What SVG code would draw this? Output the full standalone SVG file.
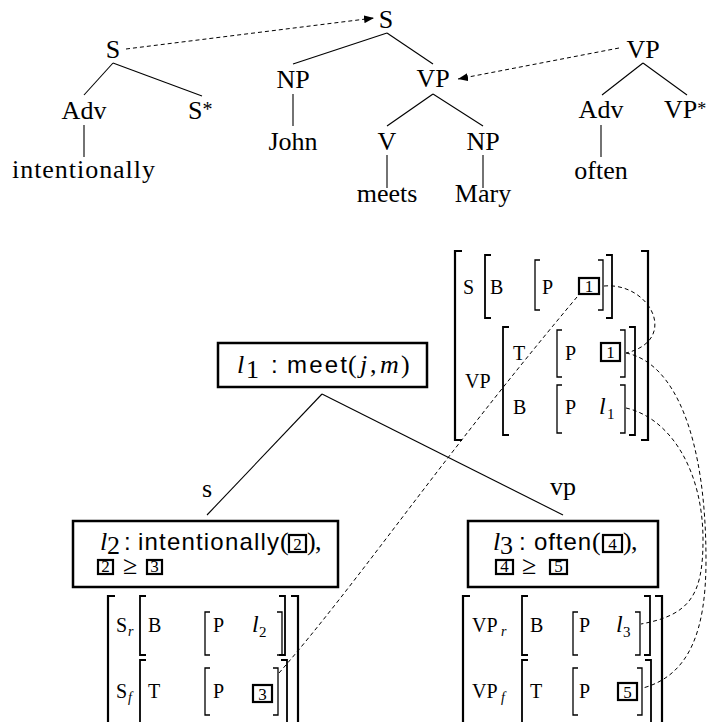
<svg xmlns="http://www.w3.org/2000/svg" width="707" height="722" viewBox="0 0 707 722">
<style>
.t{font-family:"Liberation Serif",serif;font-size:26px;fill:#000}
.m{text-anchor:middle}
.i{font-style:italic}
.sf{font-family:"Liberation Sans",sans-serif;font-size:24px;fill:#000}
.a{font-family:"Liberation Serif",serif;font-size:20px;fill:#000}
.li{font-family:"Liberation Serif",serif;font-size:24px;font-style:italic;fill:#000}
.sb{font-family:"Liberation Serif",serif;font-size:15px;fill:#000}
.si{font-family:"Liberation Serif",serif;font-size:14px;font-style:italic;fill:#000}
.n{font-family:"Liberation Serif",serif;font-size:17px;fill:#000;text-anchor:middle}
.e{stroke:#000;stroke-width:1.1;fill:none}
.d{stroke:#000;stroke-width:1;stroke-dasharray:4 3;fill:none}
.bx{fill:#fff;stroke:#000;stroke-width:2.5}
.nb{fill:none;stroke:#000;stroke-width:2.2}
.b1{fill:none;stroke:#000;stroke-width:2.2}
.b2{fill:none;stroke:#000;stroke-width:1.8}
.b3{fill:none;stroke:#000;stroke-width:1.3}
</style>
<defs>
<marker id="ah" viewBox="0 0 10 8" refX="10" refY="4" markerWidth="10" markerHeight="8" markerUnits="userSpaceOnUse" orient="auto">
<path d="M0,0 L10,4 L0,8 z" fill="#000"/>
</marker>
</defs>

<g id="connectors">
<line class="e" x1="113" y1="63" x2="84" y2="95"/>
<line class="e" x1="113" y1="63" x2="202" y2="96"/>
<line class="e" x1="84" y1="125" x2="84" y2="157"/>
<line class="e" x1="387" y1="33" x2="293" y2="64"/>
<line class="e" x1="387" y1="33" x2="433" y2="64"/>
<line class="e" x1="293" y1="94" x2="293" y2="126"/>
<line class="e" x1="433" y1="94" x2="387" y2="126"/>
<line class="e" x1="433" y1="94" x2="483" y2="126"/>
<line class="e" x1="387" y1="155" x2="387" y2="188"/>
<line class="e" x1="483" y1="155" x2="483" y2="188"/>
<line class="e" x1="643" y1="63" x2="602" y2="95"/>
<line class="e" x1="643" y1="63" x2="687" y2="95"/>
<line class="e" x1="601" y1="125" x2="601" y2="157"/>
<path class="d" d="M126,49 L374,18" marker-end="url(#ah)"/>
<path class="d" d="M619,48 L458,79" marker-end="url(#ah)"/>
<line class="e" x1="322" y1="394" x2="207" y2="515"/>
<line class="e" x1="322" y1="394" x2="563" y2="515"/>
<path class="d" d="M279,673 C360,580 440,460 577,297"/>
<path class="d" d="M604,286 C650,282 680,340 626,353"/>
<path class="d" d="M626,353 C676,363 706,440 706,560 C706,630 690,675 643,688"/>
<path class="d" d="M626,408 C670,418 703,470 703,540 C703,595 690,615 641,624"/>
</g>

<g id="n-S-adv"><text class="t m" x="113" y="58">S</text></g>
<g id="n-Adv-1"><text class="t m" x="84" y="119">Adv</text></g>
<g id="n-Sfoot"><text class="t" x="188" y="119">S<tspan font-size="20" dy="-3">*</tspan></text></g>
<g id="n-intentionally"><text class="t" x="12" y="178" textLength="143" lengthAdjust="spacing">intentionally</text></g>

<g id="n-S-root"><text class="t m" x="386" y="28">S</text></g>
<g id="n-NP-1"><text class="t m" x="293" y="88">NP</text></g>
<g id="n-John"><text class="t m" x="293" y="150">John</text></g>
<g id="n-VP-1"><text class="t m" x="433" y="87">VP</text></g>
<g id="n-V"><text class="t m" x="387" y="150">V</text></g>
<g id="n-NP-2"><text class="t m" x="483" y="150">NP</text></g>
<g id="n-meets"><text class="t m" x="387" y="202">meets</text></g>
<g id="n-Mary"><text class="t m" x="483" y="202">Mary</text></g>

<g id="n-VP-adv"><text class="t m" x="643" y="58">VP</text></g>
<g id="n-Adv-2"><text class="t m" x="601" y="118">Adv</text></g>
<g id="n-VPfoot"><text class="t" x="664" y="118">VP<tspan font-size="18" dy="-3">*</tspan></text></g>
<g id="n-often"><text class="t m" x="601" y="179">often</text></g>

<g id="avm-top">
<path class="b1" d="M462,251 H455 V440 H462"/>
<path class="b1" d="M641,251 H648 V440 H641"/>
<path class="b2" d="M491,255 H485 V318 H491"/>
<path class="b2" d="M606,255 H612 V318 H606"/>
<path class="b3" d="M540,260 H535 V310 H540"/>
<path class="b3" d="M598,260 H603 V310 H598"/>
<text class="a" x="463" y="294">S</text>
<text class="a" x="490" y="294">B</text>
<text class="a" x="542" y="294">P</text>
<rect class="nb" x="579" y="278" width="20" height="16"/>
<text class="n" x="589" y="292">1</text>
<text class="a" x="465" y="388">VP</text>
<path class="b2" d="M509,327 H503 V435 H509"/>
<path class="b2" d="M629,327 H635 V435 H629"/>
<text class="a" x="513" y="360">T</text>
<path class="b3" d="M562,330 H557 V377 H562"/>
<path class="b3" d="M620,330 H625 V377 H620"/>
<text class="a" x="565" y="360">P</text>
<rect class="nb" x="601" y="343" width="19" height="18"/>
<text class="n" x="610.5" y="358">1</text>
<text class="a" x="513" y="414">B</text>
<path class="b3" d="M562,385 H557 V433 H562"/>
<path class="b3" d="M620,385 H625 V433 H620"/>
<text class="a" x="565" y="414">P</text>
<text class="li" x="599" y="414">l</text>
<text class="sb" x="607" y="419">1</text>
</g>

<g id="n-l1">
<rect class="bx" x="218" y="343" width="209" height="44"/>
<text class="t i" x="237" y="373">l</text>
<text class="t" x="246" y="378" font-size="17">1</text>
<text class="sf" x="271" y="373">:</text>
<text class="sf" x="287" y="373" textLength="60" lengthAdjust="spacing">meet</text>
<text class="t" x="348" y="373">(</text>
<text class="t i" x="360" y="373">j</text>
<text class="t" x="370" y="373">,</text>
<text class="t i" x="380" y="373">m</text>
<text class="t" x="401" y="373">)</text>
</g>

<g id="lbl-s"><text class="t" x="202" y="497">s</text></g>
<g id="lbl-vp"><text class="t" x="550" y="495">vp</text></g>

<g id="n-l2">
<rect class="bx" x="73" y="521" width="265" height="66"/>
<text class="t i" x="100" y="550">l</text>
<text class="t" x="107" y="554" font-size="16">2</text>
<text class="sf" x="124" y="550">:</text>
<text class="sf" x="138" y="550" textLength="141" lengthAdjust="spacing">intentionally</text>
<text class="t" x="280" y="550">(</text>
<rect class="nb" x="289" y="535" width="17" height="17"/>
<text class="n" x="297.5" y="549.5">2</text>
<text class="t" x="307" y="550">)</text>
<text class="t" x="315" y="550">,</text>
<rect class="nb" x="98" y="560" width="15" height="14"/>
<text class="n" x="105.5" y="572" font-size="15">2</text>
<text class="t" x="123" y="574" font-size="26">≥</text>
<rect class="nb" x="147" y="560" width="15" height="14"/>
<text class="n" x="154.5" y="572" font-size="15">3</text>
</g>

<g id="n-l3">
<rect class="bx" x="468" y="521" width="190" height="66"/>
<text class="t i" x="493" y="550">l</text>
<text class="t" x="500" y="554" font-size="16">3</text>
<text class="sf" x="519" y="550">:</text>
<text class="sf" x="534" y="550" textLength="57" lengthAdjust="spacing">often</text>
<text class="t" x="592" y="550">(</text>
<rect class="nb" x="603" y="535" width="19" height="17"/>
<text class="n" x="612.5" y="549.5">4</text>
<text class="t" x="623" y="550">)</text>
<text class="t" x="631" y="550">,</text>
<rect class="nb" x="496" y="560" width="17" height="14"/>
<text class="n" x="504.5" y="572" font-size="15">4</text>
<text class="t" x="522" y="574" font-size="26">≥</text>
<rect class="nb" x="550" y="560" width="17" height="14"/>
<text class="n" x="558.5" y="572" font-size="15">5</text>
</g>

<g id="avm-s">
<path class="b1" d="M115,596 H108 V728 H115"/>
<path class="b1" d="M291,596 H298 V728 H291"/>
<path class="b2" d="M146,596 H140 V655 H146"/>
<path class="b2" d="M279,596 H285 V655 H279"/>
<path class="b3" d="M210,612 H205 V655 H210"/>
<path class="b3" d="M277,612 H282 V655 H277"/>
<text class="a" x="116" y="632">S</text>
<text class="si" x="128" y="636">r</text>
<text class="a" x="148" y="632">B</text>
<text class="a" x="213" y="632">P</text>
<text class="li" x="252" y="632">l</text>
<text class="sb" x="259" y="637">2</text>
<path class="b2" d="M146,660 H140 V726 H146"/>
<path class="b2" d="M281,660 H287 V726 H281"/>
<path class="b3" d="M210,668 H205 V715 H210"/>
<path class="b3" d="M273,668 H278 V715 H273"/>
<text class="a" x="116" y="698">S</text>
<text class="si" x="128" y="702">f</text>
<text class="a" x="148" y="698">T</text>
<text class="a" x="213" y="698">P</text>
<rect class="nb" x="253" y="685" width="19" height="17"/>
<text class="n" x="262.5" y="699.5">3</text>
</g>

<g id="avm-vp">
<path class="b1" d="M470,596 H463 V728 H470"/>
<path class="b1" d="M655,596 H662 V728 H655"/>
<path class="b2" d="M528,596 H522 V655 H528"/>
<path class="b2" d="M644,596 H650 V655 H644"/>
<path class="b3" d="M578,612 H573 V655 H578"/>
<path class="b3" d="M635,612 H640 V655 H635"/>
<text class="a" x="472" y="632" font-size="22">VP</text>
<text class="si" x="501" y="636">r</text>
<text class="a" x="530" y="632">B</text>
<text class="a" x="579" y="632">P</text>
<text class="li" x="616" y="632">l</text>
<text class="sb" x="623" y="637">3</text>
<path class="b2" d="M528,660 H522 V726 H528"/>
<path class="b2" d="M645,660 H651 V726 H645"/>
<path class="b3" d="M578,668 H573 V715 H578"/>
<path class="b3" d="M637,668 H642 V715 H637"/>
<text class="a" x="472" y="698" font-size="22">VP</text>
<text class="si" x="501" y="702">f</text>
<text class="a" x="530" y="698">T</text>
<text class="a" x="579" y="698">P</text>
<rect class="nb" x="618" y="683" width="19" height="17"/>
<text class="n" x="627.5" y="697.5">5</text>
</g>
</svg>
